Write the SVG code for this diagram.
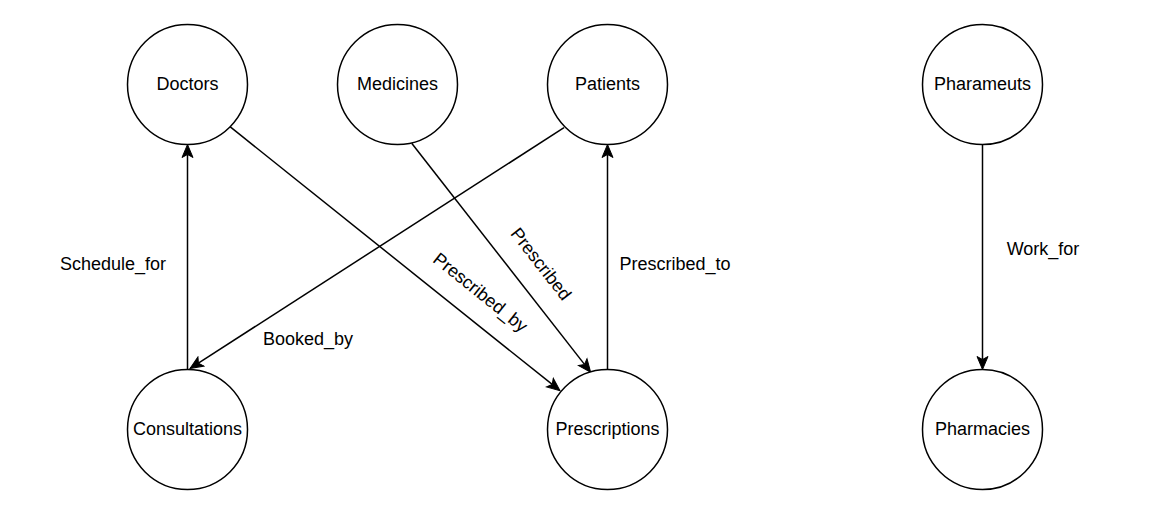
<svg xmlns="http://www.w3.org/2000/svg" width="1171" height="522" viewBox="0 0 1171 522">
  <style>
    .node circle { fill: #ffffff; stroke: #000000; stroke-width: 1.5; }
    .node text { font-family: "Liberation Sans", Arial, sans-serif; font-size: 18px; fill: #000000; text-anchor: middle; }
    .edge { fill: none; stroke: #000000; stroke-width: 1.5; marker-end: url(#arrow); }
    .label { font-family: "Liberation Sans", Arial, sans-serif; font-size: 18px; fill: #000000; text-anchor: middle; }
  </style>
  <defs>
    <marker id="arrow" markerUnits="userSpaceOnUse" viewBox="-4 -7 15 14" markerWidth="15" markerHeight="14" refX="0" refY="0" orient="auto">
      <path d="M0,0 L-3,-5.5 L10,0 L-3,5.5 Z" fill="#000000" stroke="#000000" stroke-width="1"/>
    </marker>
  </defs>
  <rect x="0" y="0" width="1171" height="522" fill="#ffffff"/>

  <g id="connectors">
    <line class="edge" x1="187.5" y1="369.5" x2="187.5" y2="154.5"/>
    <line class="edge" x1="607.5" y1="369.5" x2="607.5" y2="154.5"/>
    <line class="edge" x1="982.5" y1="144.5" x2="982.5" y2="359.5"/>
    <line class="edge" x1="564" y1="127.7" x2="198.4" y2="363.1"/>
    <line class="edge" x1="230" y1="126.7" x2="552.2" y2="384.45"/>
    <line class="edge" x1="411.7" y1="143.3" x2="584.5" y2="364.4"/>
    <text class="label" x="113" y="270">Schedule_for</text>
    <text class="label" x="308" y="345">Booked_by</text>
    <text class="label" x="675" y="270">Prescribed_to</text>
    <text class="label" x="1043" y="254.5">Work_for</text>
    <text class="label" transform="translate(480.5,292.5) rotate(38.7)" x="0" y="6">Prescribed_by</text>
    <text class="label" transform="translate(541,264) rotate(52)" x="0" y="6">Prescribed</text>
  </g>

  <g id="doctors" class="node">
    <circle cx="187.5" cy="84.5" r="60"/>
    <text x="187.5" y="89.5">Doctors</text>
  </g>
  <g id="medicines" class="node">
    <circle cx="397.5" cy="84.5" r="60"/>
    <text x="397.5" y="89.5">Medicines</text>
  </g>
  <g id="patients" class="node">
    <circle cx="607.5" cy="84.5" r="60"/>
    <text x="607.5" y="89.5">Patients</text>
  </g>
  <g id="pharameuts" class="node">
    <circle cx="982.5" cy="84.5" r="60"/>
    <text x="982.5" y="89.5">Pharameuts</text>
  </g>
  <g id="consultations" class="node">
    <circle cx="187.5" cy="429.5" r="60"/>
    <text x="187.5" y="434.5">Consultations</text>
  </g>
  <g id="prescriptions" class="node">
    <circle cx="607.5" cy="429.5" r="60"/>
    <text x="607.5" y="434.5">Prescriptions</text>
  </g>
  <g id="pharmacies" class="node">
    <circle cx="982.5" cy="429.5" r="60"/>
    <text x="982.5" y="434.5">Pharmacies</text>
  </g>
</svg>
